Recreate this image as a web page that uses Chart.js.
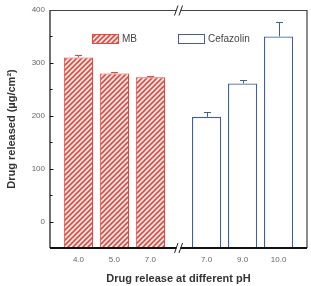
<!DOCTYPE html>
<html><head><meta charset="utf-8">
<script src="https://cdn.jsdelivr.net/npm/chart.js@4.4.1/dist/chart.umd.min.js"></script>
<style>html,body{margin:0;padding:0;background:#fff;}#wrap{width:311px;height:286px;}</style>
</head><body><div id="wrap"><canvas id="c" width="311" height="286"></canvas></div>
<script>
const mbLabels = ['4.0', '5.0', '7.0'];
const cefLabels = ['7.0', '9.0', '10.0'];
const mbValues = [310, 280, 273];
const mbErrors = [4, 2, 3];
const cefValues = [198, 261, 350];
const cefErrors = [10, 6, 28];
const yMajorTicks = [0, 100, 200, 300, 400];
const seriesNames = ['MB', 'Cefazolin'];

const RED = '#e8453c';
const BLUE = '#3f5f9f';
const GROUP_GAP = 0.56;

// x positions derived from category index, with a break gap between groups
const mbX = mbLabels.map((_, i) => i);
const cefX = cefLabels.map((_, i) => mbLabels.length + GROUP_GAP + i);
const allX = mbX.concat(cefX);
const allLabels = mbLabels.concat(cefLabels);

function hatch() {
  const s = 5;
  const c = document.createElement('canvas');
  c.width = s; c.height = s;
  const g = c.getContext('2d');
  g.fillStyle = '#fdf0ec';
  g.fillRect(0, 0, s, s);
  g.strokeStyle = RED;
  g.lineWidth = 1.6;
  g.beginPath();
  g.moveTo(-1, s + 1); g.lineTo(s + 1, -1);
  g.moveTo(-1, 1); g.lineTo(1, -1);
  g.moveTo(s - 1, s + 1); g.lineTo(s + 1, s - 1);
  g.stroke();
  return g.createPattern(c, 'repeat');
}
const pattern = hatch();

const errorsPlugin = {
  id: 'errs',
  afterDatasetsDraw(chart) {
    const ctx = chart.ctx, xs = chart.scales.x, ys = chart.scales.y;
    const sets = [[mbX, mbValues, mbErrors, RED], [cefX, cefValues, cefErrors, BLUE]];
    ctx.save();
    sets.forEach(([xv, vals, errs, col]) => {
      ctx.strokeStyle = col; ctx.lineWidth = 1;
      vals.forEach((v, i) => {
        const px = Math.round(xs.getPixelForValue(xv[i])) + 0.5;
        const y0 = ys.getPixelForValue(v), y1 = ys.getPixelForValue(v + errs[i]);
        ctx.beginPath();
        ctx.moveTo(px, y0); ctx.lineTo(px, Math.round(y1) + 0.5);
        ctx.moveTo(px - 3.5, Math.round(y1) + 0.5); ctx.lineTo(px + 3.5, Math.round(y1) + 0.5);
        ctx.stroke();
      });
    });
    ctx.restore();
  }
};

const framePlugin = {
  id: 'frame',
  afterDraw(chart) {
    const ctx = chart.ctx, a = chart.chartArea, xs = chart.scales.x, ys = chart.scales.y;
    const brk = (xs.getPixelForValue(mbX[mbX.length - 1]) + xs.getPixelForValue(cefX[0])) / 2;
    ctx.save();
    ctx.strokeStyle = '#111'; ctx.lineWidth = 1.2;
    ctx.beginPath(); ctx.moveTo(a.left, a.top); ctx.lineTo(a.left, a.bottom); ctx.stroke();
    ctx.lineWidth = 1;
    for (let v = ys.min; v <= ys.max; v += 50) {
      const py = Math.round(ys.getPixelForValue(v)) + 0.5;
      const len = (v % 100 === 0) ? 3.5 : 2.5;
      ctx.beginPath(); ctx.moveTo(a.left, py); ctx.lineTo(a.left + len, py); ctx.stroke();
    }
    ctx.strokeStyle = '#8a8a8a'; ctx.lineWidth = 2;
    ctx.beginPath(); ctx.moveTo(a.right, a.top); ctx.lineTo(a.right, a.bottom); ctx.stroke();
    ctx.strokeStyle = '#444'; ctx.lineWidth = 1;
    ctx.beginPath();
    ctx.moveTo(a.left, a.top + 0.5); ctx.lineTo(brk - 2, a.top + 0.5);
    ctx.moveTo(brk + 2, a.top + 0.5); ctx.lineTo(a.right, a.top + 0.5);
    ctx.stroke();
    ctx.strokeStyle = '#111'; ctx.lineWidth = 1.8;
    ctx.beginPath();
    ctx.moveTo(a.left, a.bottom); ctx.lineTo(brk - 2, a.bottom);
    ctx.moveTo(brk + 2, a.bottom); ctx.lineTo(a.right, a.bottom);
    ctx.stroke();
    ctx.lineWidth = 1; ctx.strokeStyle = '#222';
    [a.top + 0.5, a.bottom].forEach(y => {
      ctx.beginPath();
      ctx.moveTo(brk - 4, y + 5); ctx.lineTo(brk - 0.5, y - 5);
      ctx.moveTo(brk + 0.5, y + 5); ctx.lineTo(brk + 4, y - 5);
      ctx.stroke();
    });
    const items = [
      {x: 92, label: seriesNames[0], fill: pattern, stroke: RED},
      {x: 178, label: seriesNames[1], fill: '#fff', stroke: BLUE}
    ];
    ctx.font = '10px "Liberation Sans", Arial, sans-serif';
    ctx.textBaseline = 'middle';
    items.forEach(it => {
      ctx.fillStyle = it.fill;
      ctx.fillRect(it.x, 34, 27, 9);
      ctx.strokeStyle = it.stroke; ctx.lineWidth = 1;
      ctx.strokeRect(it.x + 0.5, 34.5, 26, 9);
      ctx.fillStyle = '#444';
      ctx.fillText(it.label, it.x + 30, 39.5);
    });
    ctx.restore();
  }
};

new Chart(document.getElementById('c'), {
  type: 'bar',
  data: {
    datasets: [
      {
        label: seriesNames[0],
        data: mbX.map((x, i) => ({x, y: mbValues[i]})),
        backgroundColor: pattern,
        borderColor: RED,
        borderWidth: 1,
        base: -50,
        grouped: false,
        barPercentage: 0.81,
        categoryPercentage: 1
      },
      {
        label: seriesNames[1],
        data: cefX.map((x, i) => ({x, y: cefValues[i]})),
        backgroundColor: '#ffffff',
        borderColor: BLUE,
        borderWidth: 1.3,
        base: -50,
        grouped: false,
        barPercentage: 0.81,
        categoryPercentage: 1
      }
    ]
  },
  options: {
    responsive: false,
    animation: false,
    devicePixelRatio: 1,
    layout: {padding: {top: 10, right: 4, left: 5, bottom: 0}},
    plugins: {legend: {display: false}, tooltip: {enabled: false}},
    scales: {
      x: {
        type: 'linear',
        offset: false,
        min: -0.79,
        max: 6.35,
        grid: {display: false, drawTicks: false, offset: false},
        border: {display: false},
        afterBuildTicks(scale) { scale.ticks = allX.map(v => ({value: v})); },
        afterFit(scale) { scale.height = 38; },
        ticks: {
          autoSkip: false,
          maxRotation: 0,
          padding: 7,
          color: '#666',
          font: {family: '"Liberation Sans", Arial, sans-serif', size: 8}
          ,
          callback(value) {
            const i = allX.findIndex(x => Math.abs(x - value) < 1e-6);
            return i >= 0 ? allLabels[i] : '';
          }
        },
        title: {
          display: true,
          text: 'Drug release at different pH',
          color: '#333',
          padding: {top: 5, bottom: 0},
          font: {family: '"Liberation Sans", Arial, sans-serif', size: 11, weight: 'bold'}
        }
      },
      y: {
        min: -50,
        max: 400,
        grid: {display: false, drawTicks: false},
        border: {display: false},
        afterBuildTicks(scale) { scale.ticks = yMajorTicks.map(v => ({value: v})); },
        afterFit(scale) { scale.width = 45; },
        ticks: {
          padding: 5,
          color: '#666',
          font: {family: '"Liberation Sans", Arial, sans-serif', size: 8}
        },
        title: {
          display: true,
          text: 'Drug released (µg/cm²)',
          color: '#333',
          padding: {top: 0, bottom: 0},
          font: {family: '"Liberation Sans", Arial, sans-serif', size: 11, weight: 'bold'}
        }
      }
    }
  },
  plugins: [errorsPlugin, framePlugin]
});
</script>
</body></html>
